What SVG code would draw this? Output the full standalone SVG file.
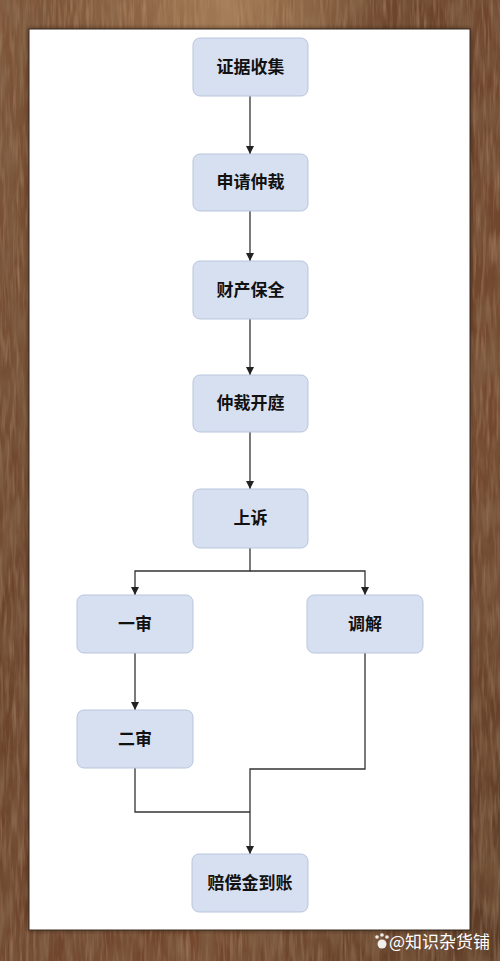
<svg xmlns="http://www.w3.org/2000/svg" width="500" height="961" viewBox="0 0 500 961">
<defs>
<linearGradient id="wood" x1="0" y1="0" x2="1" y2="1">
<stop offset="0" stop-color="#7e5538"/>
<stop offset="0.35" stop-color="#6a432b"/>
<stop offset="0.7" stop-color="#74492e"/>
<stop offset="1" stop-color="#5a3a25"/>
</linearGradient>
<radialGradient id="light" cx="0.45" cy="0" r="0.35">
<stop offset="0" stop-color="#c49a6c" stop-opacity="0.6"/>
<stop offset="1" stop-color="#c49a6c" stop-opacity="0"/>
</radialGradient>
<filter id="grain" x="0" y="0" width="100%" height="100%">
<feTurbulence type="fractalNoise" baseFrequency="0.06 0.02" numOctaves="4" seed="7" result="n"/>
<feColorMatrix in="n" type="matrix" values="0 0 0 0 0.22  0 0 0 0 0.12  0 0 0 0 0.06  0 0 0 1.6 -0.55"/>
<feComposite in2="SourceGraphic" operator="in"/>
</filter>
<filter id="grain2" x="0" y="0" width="100%" height="100%">
<feTurbulence type="fractalNoise" baseFrequency="0.3 0.03" numOctaves="2" seed="3" result="n"/>
<feColorMatrix in="n" type="matrix" values="0 0 0 0 0.78  0 0 0 0 0.6  0 0 0 0 0.42  0 0 0 1.4 -0.6"/>
<feComposite in2="SourceGraphic" operator="in"/>
</filter>
<filter id="shadow" x="-5%" y="-5%" width="110%" height="110%">
<feDropShadow dx="0" dy="0" stdDeviation="2" flood-color="#2a1a10" flood-opacity="0.7"/>
</filter>
<marker id="arr" viewBox="0 0 10 10" refX="10" refY="5" markerWidth="8" markerHeight="8" markerUnits="userSpaceOnUse" orient="auto">
<path d="M0,0 L10,5 L0,10 z" fill="#222"/>
</marker>
<style>
.node rect{fill:#d7e0f1;stroke:#b9c5dd;stroke-width:1}
.node text{font-family:"Noto Sans CJK SC","Noto Sans",sans-serif;font-weight:bold;font-size:17px;fill:#111;text-anchor:middle}
.conn path{fill:none;stroke:#333;stroke-width:1.3}
</style>
</defs>
<rect x="0" y="0" width="500" height="961" fill="url(#wood)"/>
<rect x="0" y="0" width="500" height="961" fill="#fff" filter="url(#grain2)" opacity="0.5"/>
<rect x="0" y="0" width="500" height="961" fill="#fff" filter="url(#grain)"/>
<rect x="0" y="0" width="500" height="961" fill="url(#light)"/>
<rect x="29" y="29" width="441" height="901" fill="#fff" stroke="#3a2a1e" stroke-width="1" filter="url(#shadow)"/>
<g class="conn">
<path d="M250,96 V154" marker-end="url(#arr)"/>
<path d="M250,211 V261" marker-end="url(#arr)"/>
<path d="M250,319 V375" marker-end="url(#arr)"/>
<path d="M250,432 V489" marker-end="url(#arr)"/>
<path d="M250,548 V571 H135 V595" marker-end="url(#arr)"/>
<path d="M250,571 H365 V595" marker-end="url(#arr)"/>
<path d="M135,653 V710" marker-end="url(#arr)"/>
<path d="M365,653 V769 H250 V854" marker-end="url(#arr)"/>
<path d="M135,768 V812 H250"/>
</g>
<g id="n1" class="node"><rect x="193" y="38" width="115" height="58" rx="7"/><text x="250.5" y="73">证据收集</text></g>
<g id="n2" class="node"><rect x="193" y="154" width="115" height="57" rx="7"/><text x="250.5" y="188">申请仲裁</text></g>
<g id="n3" class="node"><rect x="193" y="261" width="115" height="58" rx="7"/><text x="250.5" y="296">财产保全</text></g>
<g id="n4" class="node"><rect x="193" y="375" width="115" height="57" rx="7"/><text x="250.5" y="409">仲裁开庭</text></g>
<g id="n5" class="node"><rect x="193" y="489" width="115" height="59" rx="7"/><text x="250.5" y="524">上诉</text></g>
<g id="n6" class="node"><rect x="77" y="595" width="116" height="58" rx="7"/><text x="135" y="630">一审</text></g>
<g id="n7" class="node"><rect x="307" y="595" width="116" height="58" rx="7"/><text x="365" y="630">调解</text></g>
<g id="n8" class="node"><rect x="77" y="710" width="116" height="58" rx="7"/><text x="135" y="745">二审</text></g>
<g id="n9" class="node"><rect x="192" y="854" width="116" height="58" rx="7"/><text x="250" y="889">赔偿金到账</text></g>
<g id="wm">
<g fill="#fff" opacity="0.9">
<circle cx="382" cy="944" r="4.5"/>
<circle cx="377" cy="937" r="1.8"/>
<circle cx="382" cy="935" r="1.8"/>
<circle cx="387" cy="937" r="1.8"/>
</g>
<text x="490" y="948" font-family="'Noto Sans CJK SC','Noto Sans',sans-serif" font-size="17" fill="#fff" text-anchor="end">@知识杂货铺</text>
</g>
</svg>
